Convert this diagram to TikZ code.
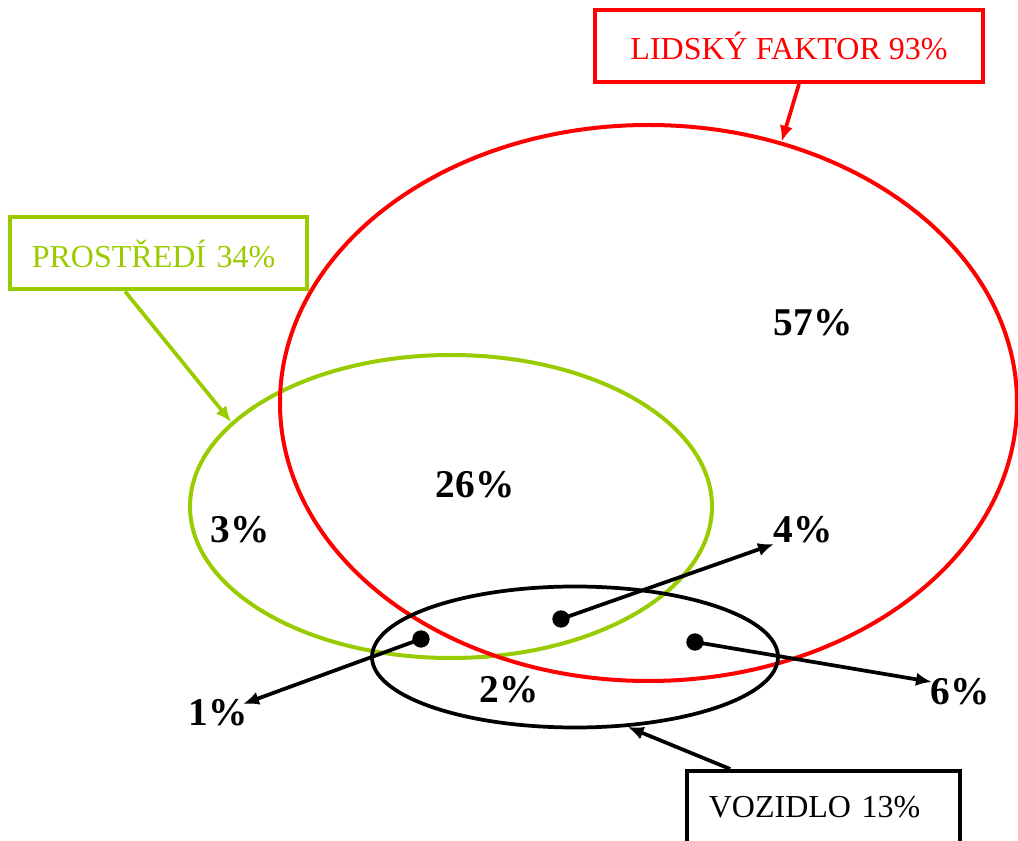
\documentclass[tikz,border=0pt]{standalone}
\usepackage{fontspec}
\setmainfont{Liberation Serif}
\usetikzlibrary{shapes.geometric, arrows.meta, positioning}
\definecolor{cRed}{RGB}{255,0,0}
\definecolor{cGreen}{RGB}{153,204,0}

\begin{document}
\begin{tikzpicture}[x=0.75pt, y=-0.75pt,
    ramec/.style={draw, line width=3pt, minimum height=54pt, font=\fontsize{24}{27}\selectfont},
    mnozina/.style={ellipse, draw, line width=3pt, inner sep=0pt},
    procento/.style={font=\fontsize{29.5}{32}\selectfont\bfseries, inner sep=0pt},
    bod/.style={circle, fill=black, inner sep=0pt, minimum size=13pt},
    sipka/.style={line width=2.8pt, -{Latex[length=12pt,width=10pt]}}]
  \useasboundingbox (0,0) rectangle (1018,841);
  % Mnoziny
  \node[mnozina, draw=cGreen, minimum width=391.5pt, minimum height=227.25pt] (prostredi) at (451,506.5) {};
  \node[mnozina, draw=cRed, minimum width=552.75pt, minimum height=417pt] (lidsky) at (648.5,403) {};
  \node[mnozina, draw=black, line width=2.8pt, minimum width=304.5pt, minimum height=105.75pt] (vozidlo) at (575,657) {};
  % Popisky v ramecku
  \node[ramec, draw=cRed, text=cRed, minimum width=291pt] (tlidsky) at (789,46) {LIDSKÝ FAKTOR 93\%};
  \node[ramec, draw=cGreen, text=cGreen, minimum width=222.75pt, text width=200pt, align=left] (tprostredi) at (158.5,253.5) {\hspace*{5pt}PROSTŘEDÍ 34\%};
  \node[ramec, draw=black, minimum width=204.75pt, text width=190pt, align=left] (tvozidlo) at (823.5,807) {\hspace*{9pt}VOZIDLO 13\%};
  \draw[sipka, cRed] ([xshift=7.5pt]tlidsky.south) -- (lidsky.63);
  \draw[sipka, cGreen] ([xshift=-25pt]tprostredi.south) -- (prostredi.159);
  \draw[sipka] ([xshift=-70pt]tvozidlo.north) -- (vozidlo.-53);
  % Procenta
  \node[procento] (p57) at (813,323) {57\%};
  \node[procento] (p26) at (475,485) {26\%};
  \node[procento] (p3) at (240,530) {3\%};
  \node[procento] (p4) at (803,530) {4\%};
  \node[procento] (p1) at (218,713) {1\%};
  \node[procento] (p2) at (509,690) {2\%};
  \node[procento] (p6) at (960,692) {6\%};
  % Body a sipky
  \node[bod] (b1) at (421,639) {};
  \node[bod] (b4) at (561,619) {};
  \node[bod] (b6) at (695,642) {};
  \coordinate (k1) at (243,704);
  \coordinate (k4) at (774,544);
  \coordinate (k6) at (932,682);
  \draw[sipka] (b1.center) -- (k1);
  \draw[sipka] (b4.center) -- (k4);
  \draw[sipka] (b6.center) -- (k6);
\end{tikzpicture}
\end{document}
